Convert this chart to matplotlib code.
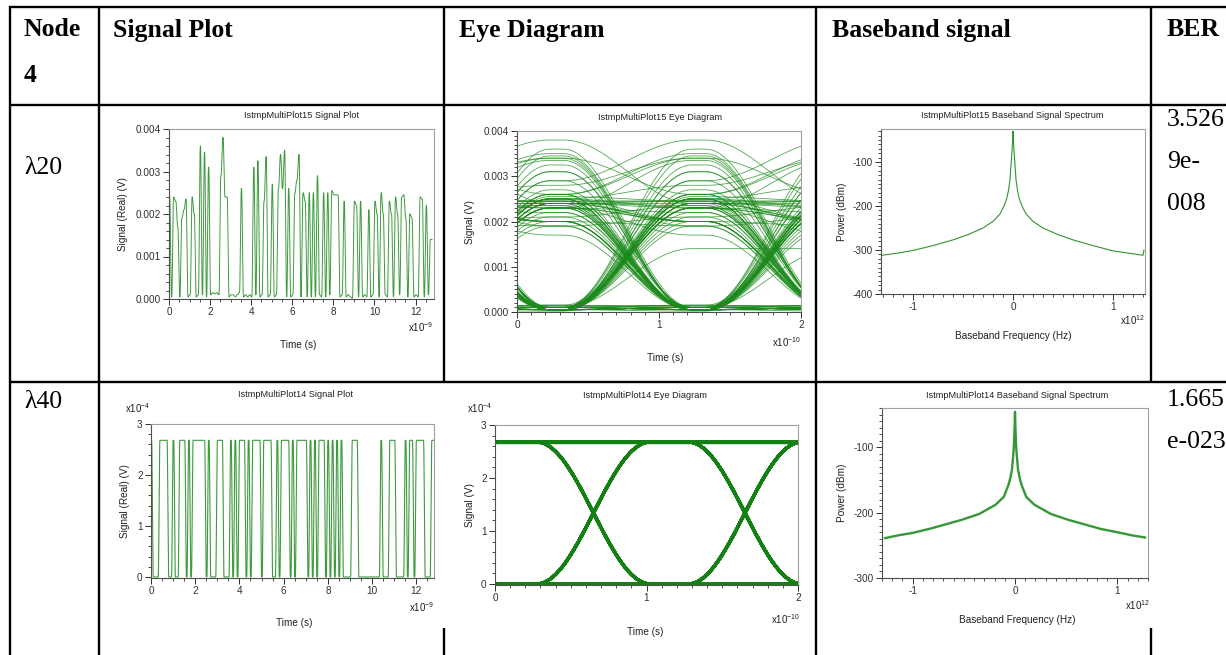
import numpy as np
import matplotlib
matplotlib.use("Agg")
import matplotlib.pyplot as plt
from matplotlib.lines import Line2D
from matplotlib.ticker import MultipleLocator, FormatStrFormatter

# ---------------- data ----------------
header_labels = ["Signal Plot", "Eye Diagram", "Baseband signal", "BER"]
node_label = ["Node", "4"]
row_labels = ["\u03bb20", "\u03bb40"]
ber_row1 = ["3.526", "9e-", "008"]
ber_row2 = ["1.665", "e-023"]
titles_row1 = ["IstmpMultiPlot15 Signal Plot", "IstmpMultiPlot15 Eye Diagram",
               "IstmpMultiPlot15 Baseband Signal Spectrum"]
titles_row2 = ["IstmpMultiPlot14 Signal Plot", "IstmpMultiPlot14 Eye Diagram",
               "IstmpMultiPlot14 Baseband Signal Spectrum"]

# lambda 20: per-bit signal level (mV), 128 bits of 0.1 ns
levels_l20_mV = [
    2.4, 0.05, 2.4, 2.3, 1.7, 0.05, 1.9, 2.1, 2.35, 0.05,
    0.1, 2.4, 2.0, 0.05, 0.1, 3.6, 0.1, 3.45, 0.05, 3.1,
    0.1, 0.15, 0.12, 0.15, 0.1, 2.9, 3.8, 2.4, 2.4, 0.05,
    0.1, 0.1, 0.05, 0.1, 0.15, 2.6, 0.05, 0.1, 0.05, 0.1,
    0.05, 3.1, 0.1, 3.25, 0.05, 0.1, 2.3, 3.35, 0.05, 0.1,
    2.7, 0.05, 0.1, 2.6, 3.4, 2.6, 3.5, 0.05, 2.6, 0.05,
    0.1, 2.5, 2.8, 3.4, 0.05, 2.5, 2.3, 0.05, 2.5, 0.05,
    2.5, 0.05, 2.9, 0.1, 0.05, 2.5, 0.05, 2.5, 0.1, 2.55,
    2.45, 2.45, 2.45, 0.05, 0.1, 2.3, 0.05, 0.1, 0.05, 0.02,
    2.3, 2.2, 0.05, 2.3, 0.05, 0.1, 0.05, 2.1, 0.05, 0.1,
    2.3, 2.0, 0.05, 2.5, 2.0, 0.1, 0.05, 2.3, 2.0, 0.05,
    2.4, 2.0, 0.1, 2.4, 2.45, 1.9, 0.05, 2.0, 1.9, 0.05,
    0.1, 0.05, 2.4, 2.35, 0.05, 2.2, 0.1, 1.4]

# lambda 40: bit sequence, high level 2.68e-4 V
bits_l40 = [
    1, 0, 0, 0, 1, 1, 1, 1, 0, 0,
    1, 0, 0, 1, 1, 1, 0, 1, 0, 1,
    1, 1, 1, 1, 1, 0, 1, 0, 0, 0,
    1, 1, 1, 0, 0, 0, 1, 0, 1, 0,
    1, 1, 1, 0, 1, 0, 1, 1, 1, 1,
    0, 1, 1, 1, 1, 0, 0, 1, 0, 1,
    1, 1, 1, 0, 1, 0, 1, 1, 1, 1,
    1, 0, 1, 0, 1, 0, 1, 1, 1, 0,
    1, 0, 1, 0, 1, 0, 1, 0, 0, 0,
    0, 1, 1, 1, 0, 0, 0, 0, 0, 0,
    0, 0, 0, 0, 1, 0, 0, 0, 1, 1,
    1, 0, 0, 0, 0, 1, 0, 1, 1, 0,
    1, 1, 1, 1, 0, 0, 0, 1]
high_l40 = 2.68   # x1e-4 V
low_l40 = 0.0

# spectra (frequency in 1e12 Hz, power in dBm)
spec1_freq = [-1.31, -1.15, -1.0, -0.8, -0.6, -0.45, -0.3, -0.2, -0.13, -0.09,
              -0.065, -0.045, -0.03, -0.018, -0.01, -0.004, 0.0, 0.004, 0.01,
              0.018, 0.03, 0.045, 0.065, 0.09, 0.13, 0.2, 0.3, 0.45, 0.6, 0.8,
              1.0, 1.15, 1.3, 1.31]
spec1_power = [-312, -307, -301, -290, -277, -265, -250, -235, -218, -200,
               -185, -165, -140, -100, -75, -50, -30, -50, -75,
               -100, -140, -165, -185, -200, -218, -235, -250, -265, -277, -290,
               -302, -307, -312, -300]
spec2_freq = [-1.27, -1.15, -1.0, -0.84, -0.68, -0.52, -0.35, -0.19, -0.11,
              -0.065, -0.05, -0.03, -0.016, -0.01, -0.004, 0.0, 0.004, 0.01,
              0.016, 0.03, 0.05, 0.065, 0.11, 0.19, 0.35, 0.52, 0.68, 0.84,
              1.0, 1.15, 1.27]
spec2_power = [-239, -235, -231, -225, -218, -211, -202, -188, -176,
               -158, -150, -135, -110, -95, -70, -46, -70, -95,
               -110, -135, -150, -158, -176, -188, -202, -211, -218, -225,
               -230, -235, -238]

# ---------------- helpers ----------------
W, H = 1226, 655
plt.rcParams['font.family'] = ['Liberation Sans', 'DejaVu Sans']
plt.rcParams['axes.unicode_minus'] = False
fig = plt.figure(figsize=(W / 100, H / 100), dpi=100)
fig.patch.set_facecolor('white')

SERIF = ['Liberation Serif', 'DejaVu Serif']
GREEN = '#1a8a1a'


def fx(x):
    return x / W


def fy(y):
    return 1 - y / H


def new_axes(l, r, t, b):
    ax = fig.add_axes([l / W, 1 - b / H, (r - l) / W, (b - t) / H])
    for s in ['top', 'right']:
        ax.spines[s].set_color('#a0a0a0')
    for s in ['left', 'bottom']:
        ax.spines[s].set_color('#505050')
    for s in ax.spines.values():
        s.set_linewidth(0.8)
    ax.tick_params(which='both', direction='out', top=False, right=False,
                   labelsize=7.2, colors='#303030', pad=2)
    ax.tick_params(which='major', length=4, width=0.7)
    ax.tick_params(which='minor', length=2.2, width=0.6)
    return ax


def ftext(x, y, s, **kw):
    fig.text(fx(x), fy(y), s, **kw)


def waveform(levels, t_cross, width, n_per_bit=40):
    levels = np.asarray(levels, float)
    n = len(levels)
    u = np.linspace(0, n, n * n_per_bit + 1)          # time in bit periods
    v = u - t_cross
    j = np.round(v).astype(int)
    d = v - j
    k = np.floor(v).astype(int) + 1
    lp = levels[np.clip(j, 0, n - 1)]
    ln = levels[np.clip(j + 1, 0, n - 1)]
    s = 0.5 * (1 - np.cos(np.pi * (d + width / 2) / width))
    inside = np.abs(d) < width / 2
    val = np.where(inside, lp + (ln - lp) * s, levels[np.clip(k, 0, n - 1)])
    return u, val, n_per_bit


def draw_eye(ax, u, val, npb, color, lw, alpha):
    nb = int(round(u[-1]))
    for k in range(0, nb - 1):
        i0 = k * npb
        i1 = (k + 2) * npb + 1
        ax.plot(u[i0:i1] - k, val[i0:i1], color=color, lw=lw, alpha=alpha,
                solid_capstyle='butt')


# ---------------- table ----------------
TL = dict(color='black', lw=1.7, solid_capstyle='butt')


def hline(y, x0, x1):
    fig.add_artist(Line2D([fx(x0), fx(x1)], [fy(y), fy(y)], transform=fig.transFigure, **TL))


def vline(x, y0, y1):
    fig.add_artist(Line2D([fx(x), fx(x)], [fy(y0), fy(y1)], transform=fig.transFigure, **TL))


hline(7, 9, 1226)
hline(105, 9, 1226)
hline(382, 9, 1226)
vline(10, 6, 655)
vline(99, 6, 655)
vline(444, 6, 383)
vline(444, 628, 655)
vline(816, 6, 655)
vline(1151, 6, 383)
vline(1151, 628, 655)

HB = dict(family=SERIF, fontsize=18.5, fontweight='bold', va='center', ha='left')
HR = dict(family=SERIF, fontsize=18.5, va='center', ha='left')
ftext(24, 30, node_label[0], **HB)
ftext(24, 75, node_label[1], **HB)
for x, s in zip([113, 459, 832, 1167], header_labels):
    ftext(x, 30, s, **HB)
ftext(24, 168, row_labels[0], **HR)
ftext(24, 402, row_labels[1], **HR)
for y, s in zip([120, 162, 204], ber_row1):
    ftext(1167, y, s, **HR)
for y, s in zip([400, 442], ber_row2):
    ftext(1167, y, s, **HR)

TT = dict(fontsize=6.6, ha='center', va='center', color='#202020')
LB = dict(fontsize=7.2, ha='center', va='center', color='#202020')
MU = dict(fontsize=7, va='center', color='#202020')

# ---------------- row 1 (lambda 20) ----------------
u1, v1, npb1 = waveform(levels_l20_mV, 0.78, 0.9)
v1 = v1 * 1e-3

ax = new_axes(169, 434, 129, 299)
ax.plot(u1 * 0.1, v1, color=GREEN, lw=0.7, alpha=0.85)
ax.set_xlim(0, 12.9)
ax.set_ylim(0, 0.004)
ax.xaxis.set_major_locator(MultipleLocator(2))
ax.xaxis.set_minor_locator(MultipleLocator(0.5))
ax.yaxis.set_major_locator(MultipleLocator(0.001))
ax.yaxis.set_minor_locator(MultipleLocator(0.0002))
ax.yaxis.set_major_formatter(FormatStrFormatter('%.3f'))
ax.xaxis.set_major_formatter(FormatStrFormatter('%d'))
ftext(302, 115, titles_row1[0], **TT)
ftext(298, 345, "Time (s)", **LB)
ftext(123, 214, "Signal (Real) (V)", rotation=90, **LB)
ftext(433, 327, r"x10$^{\mathregular{-9}}$", ha='right', **MU)

ax = new_axes(517, 801, 131, 312)
draw_eye(ax, u1, v1, npb1, GREEN, 0.6, 0.75)
ax.set_xlim(0, 2)
ax.set_ylim(0, 0.004)
ax.xaxis.set_major_locator(MultipleLocator(1))
ax.xaxis.set_minor_locator(MultipleLocator(0.1))
ax.yaxis.set_major_locator(MultipleLocator(0.001))
ax.yaxis.set_minor_locator(MultipleLocator(0.0001))
ax.yaxis.set_major_formatter(FormatStrFormatter('%.3f'))
ax.xaxis.set_major_formatter(FormatStrFormatter('%d'))
ftext(660, 117, titles_row1[1], **TT)
ftext(665, 358, "Time (s)", **LB)
ftext(470, 222, "Signal (V)", rotation=90, **LB)
ftext(801, 342, r"x10$^{\mathregular{-10}}$", ha='right', **MU)

ax = new_axes(881, 1145, 129, 294)
ax.plot(spec1_freq, spec1_power, color='#2f962f', lw=0.8)
ax.set_xlim(-1.32, 1.32)
ax.set_ylim(-400, -25)
ax.xaxis.set_major_locator(MultipleLocator(1))
ax.xaxis.set_minor_locator(MultipleLocator(0.1))
ax.yaxis.set_major_locator(MultipleLocator(100))
ax.yaxis.set_minor_locator(MultipleLocator(10))
ax.yaxis.set_major_formatter(FormatStrFormatter('%d'))
ax.xaxis.set_major_formatter(FormatStrFormatter('%d'))
ftext(1012, 115, titles_row1[2], **TT)
ftext(1013, 336, "Baseband Frequency (Hz)", **LB)
ftext(842, 212, "Power (dBm)", rotation=90, **LB)
ftext(1145, 320, r"x10$^{\mathregular{12}}$", ha='right', **MU)

# ---------------- row 2 (lambda 40) ----------------
lv2 = [high_l40 if b else low_l40 for b in bits_l40]
u2, v2, npb2 = waveform(lv2, 0.65, 0.75)

ax = new_axes(151, 434, 424, 578)
ax.plot(u2 * 0.1, v2, color=GREEN, lw=0.8, alpha=0.85)
ax.set_xlim(0, 12.8)
ax.set_ylim(-0.02, 3)
ax.xaxis.set_major_locator(MultipleLocator(2))
ax.xaxis.set_minor_locator(MultipleLocator(0.5))
ax.yaxis.set_major_locator(MultipleLocator(1))
ax.yaxis.set_minor_locator(MultipleLocator(0.2))
ax.yaxis.set_major_formatter(FormatStrFormatter('%d'))
ax.xaxis.set_major_formatter(FormatStrFormatter('%d'))
ftext(295, 394, titles_row2[0], **TT)
ftext(294, 623, "Time (s)", **LB)
ftext(125, 501, "Signal (Real) (V)", rotation=90, **LB)
ftext(125, 408, r"x10$^{\mathregular{-4}}$", ha='left', **MU)
ftext(434, 607, r"x10$^{\mathregular{-9}}$", ha='right', **MU)

ax = new_axes(495, 798, 425, 585)
draw_eye(ax, u2, v2, npb2, '#138013', 2.2, 0.9)
ax.set_xlim(0, 2)
ax.set_ylim(-0.02, 3)
ax.xaxis.set_major_locator(MultipleLocator(1))
ax.xaxis.set_minor_locator(MultipleLocator(0.1))
ax.yaxis.set_major_locator(MultipleLocator(1))
ax.yaxis.set_minor_locator(MultipleLocator(0.2))
ax.yaxis.set_major_formatter(FormatStrFormatter('%d'))
ax.xaxis.set_major_formatter(FormatStrFormatter('%d'))
ftext(645, 395, titles_row2[1], **TT)
ftext(645, 632, "Time (s)", **LB)
ftext(470, 505, "Signal (V)", rotation=90, **LB)
ftext(467, 408, r"x10$^{\mathregular{-4}}$", ha='left', **MU)
ftext(800, 619, r"x10$^{\mathregular{-10}}$", ha='right', **MU)

ax = new_axes(882, 1148, 408, 578)
ax.plot(spec2_freq, spec2_power, color='#1f8c1f', lw=1.7, alpha=0.9)
ax.set_xlim(-1.3, 1.3)
ax.set_ylim(-300, -40)
ax.xaxis.set_major_locator(MultipleLocator(1))
ax.xaxis.set_minor_locator(MultipleLocator(0.1))
ax.yaxis.set_major_locator(MultipleLocator(100))
ax.yaxis.set_minor_locator(MultipleLocator(10))
ax.yaxis.set_major_formatter(FormatStrFormatter('%d'))
ax.xaxis.set_major_formatter(FormatStrFormatter('%d'))
ftext(1017, 395, titles_row2[2], **TT)
ftext(1017, 620, "Baseband Frequency (Hz)", **LB)
ftext(842, 493, "Power (dBm)", rotation=90, **LB)
ftext(1150, 605, r"x10$^{\mathregular{12}}$", ha='right', **MU)

fig.savefig("out.png", dpi=100, facecolor='white')
